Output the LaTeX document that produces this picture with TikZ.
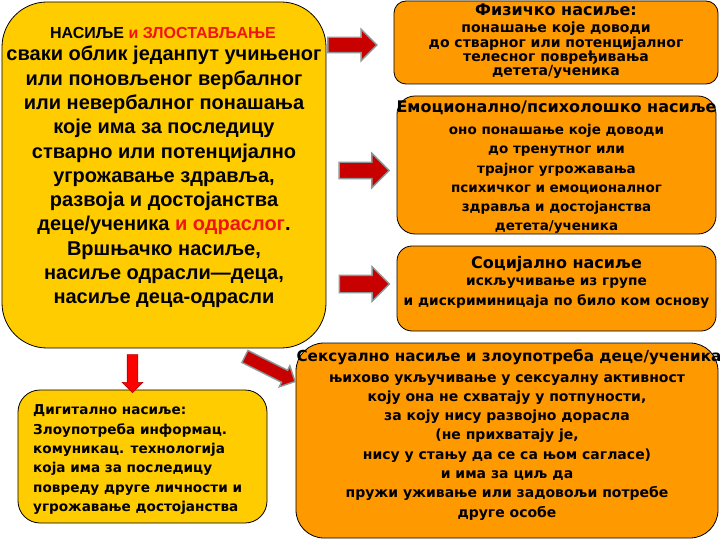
\documentclass[tikz,border=0pt]{standalone}
\usepackage{fontspec}
\setmainfont{Liberation Sans}
\newfontfamily\widefont{DejaVu Sans}
\usetikzlibrary{shapes.arrows,positioning}

\definecolor{boxyellow}{RGB}{255,204,0}
\definecolor{boxorange}{RGB}{255,153,0}
\definecolor{arrowred}{RGB}{200,0,0}
\definecolor{arrowgray}{RGB}{140,150,150}
\definecolor{textred}{RGB}{240,20,20}

\tikzset{
  panel/.style={draw=black, line width=0.8pt, inner sep=0pt},
  yellowpanel/.style={panel, fill=boxyellow},
  orangepanel/.style={panel, fill=boxorange},
  boxhead/.style={font=\widefont\bfseries\fontsize{#1}{#1}\selectfont, anchor=base, inner sep=0pt},
  boxtext/.style={font=\widefont\bfseries\fontsize{#1}{19.3}\selectfont, align=center, anchor=north, inner sep=0pt},
  bigarrow/.style={single arrow, draw=arrowgray, line width=1.4pt, fill=arrowred,
    inner xsep=0pt, single arrow head extend=#1},
}

\begin{document}
\begin{tikzpicture}[x=1pt, y=-1pt]
    \useasboundingbox (0,0) rectangle (720,540);

    % boxes
    \node[yellowpanel, rounded corners=45pt, minimum width=324pt, minimum height=346pt] (violence) at (164,175) {};
    \node[orangepanel, rounded corners=12pt, minimum width=324pt, minimum height=83pt] (physical) at (556,42.5) {};
    \node[orangepanel, rounded corners=18pt, minimum width=319pt, minimum height=138pt] (emotional) at (556.5,165) {};
    \node[orangepanel, rounded corners=15pt, minimum width=319pt, minimum height=85pt] (social) at (556.5,288.5) {};
    \node[orangepanel, rounded corners=28pt, minimum width=422pt, minimum height=195pt] (sexual) at (507,440.5) {};
    \node[yellowpanel, rounded corners=22pt, minimum width=249pt, minimum height=133pt] (digital) at (142.5,456.5) {};

    % main box text
    \node[font=\bfseries\fontsize{16}{16}\selectfont, anchor=base, inner sep=0pt] (violencehead) at (163,38.5) {НАСИЉЕ {\color{textred}и ЗЛОСТАВЉАЊЕ}};
    \node[font=\bfseries\fontsize{20}{24.3}\selectfont, align=center, anchor=north, inner sep=0pt] (violencetext) at (164,46) {сваки облик једанпут учињеног\\
      или поновљеног вербалног\\
      или невербалног понашања\\
      које има за последицу\\
      стварно или потенцијално\\
      угрожавање здравља,\\
      развоја и достојанства\\
      деце/ученика {\color{textred}и одраслог}.\\
      Вршњачко насиље,\\
      насиље одрасли—деца,\\
      насиље деца-одрасли};

    % physical
    \node[boxhead=16] (physhead) at (556,15.5) {Физичко насиље:};
    \node[font={\widefont\bfseries\fontsize{14}{14.3}\selectfont\lineskiplimit-6pt\relax}, align=center, anchor=north, inner sep=0pt] (phystext) at (556,22) {понашање које доводи\\
      до стварног или потенцијалног\\
      телесног повређивања\\
      детета/ученика};

    % emotional
    \node[boxhead=16] (emohead) at (556.5,113) {Емоционално/психолошко насиље};
    \node[boxtext=13.5] (emotext) at (556.5,124) {оно понашање које доводи\\
      до тренутног или\\
      трајног угрожавања\\
      психичког и емоционалног\\
      здравља и достојанства\\
      детета/ученика};

    % social
    \node[boxhead=16] (sochead) at (556.5,268.5) {Социјално насиље};
    \node[boxtext=13.7] (soctext) at (556.5,278) {искључивање из групе\\
      и дискриминицаја по било ком основу};

    % sexual
    \node[boxhead=15.2] (sexhead) at (509,361.5) {Сексуално насиље и злоупотреба деце/ученика};
    \node[boxtext=14] (sextext) at (507,374) {њихово укључивање у сексуалну активност\\
      коју она не схватају у потпуности,\\
      за коју нису развојно дорасла\\
      (не прихватају је,\\
      нису у стању да се са њом сагласе)\\
      и има за циљ да\\
      пружи уживање или задовољи потребе\\
      друге особе};

    % digital
    \node[font=\widefont\bfseries\fontsize{13.6}{19.4}\selectfont, align=left, anchor=north west, inner sep=0pt] (digitext) at (33,404.5) {Дигитално насиље:\\
      Злоупотреба информац.\\
      комуникац. технологија\\
      која има за последицу\\
      повреду друге личности и\\
      угрожавање достојанства};

    % arrows
    \node[bigarrow=8pt, inner ysep=7pt, minimum height=49pt] (tophys) at (348.5,45) {};
    \node[bigarrow=9pt, inner ysep=7.5pt, minimum height=50pt] (toemo) at (360,170.5) {};
    \node[bigarrow=8.5pt, inner ysep=8pt, minimum height=50pt] (tosoc) at (360,284) {};
    \node[bigarrow=5pt, inner ysep=6pt, minimum height=56pt, rotate=-26.6] (tosex) at (267,367.5) {};
    \node[single arrow, draw=red!70!black, line width=0.6pt, fill=red, inner xsep=0pt, inner ysep=5pt,
      single arrow head extend=5pt, minimum height=38pt, rotate=-90] (todigi) at (132.5,371) {};
\end{tikzpicture}
\end{document}
